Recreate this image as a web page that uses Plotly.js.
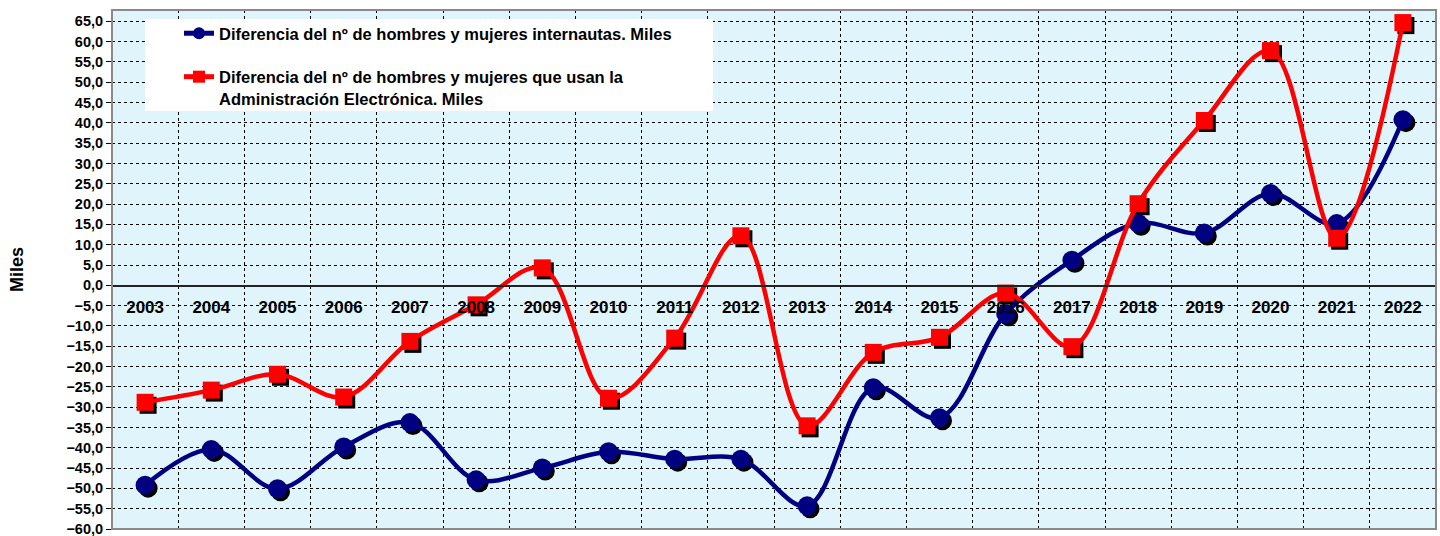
<!DOCTYPE html>
<html>
<head>
<meta charset="utf-8">
<script src="https://cdn.plot.ly/plotly-3.0.1.min.js"></script>
<style>html,body{margin:0;padding:0;background:#fff;}#chart{width:1440px;height:536px;}</style>
</head>
<body>
<div id="chart"></div>
<script>
// ---- data ----
const years = ['2003','2004','2005','2006','2007','2008','2009','2010','2011','2012',
               '2013','2014','2015','2016','2017','2018','2019','2020','2021','2022'];
const internautas = [-49.2, -40.4, -50.1, -39.8, -33.8, -47.9, -45.0, -41.0, -42.8, -42.8,
                     -54.3, -25.2, -32.6, -7.0, 6.2, 15.3, 12.9, 22.6, 15.2, 40.8];
const adminElectronica = [-28.8, -25.8, -21.9, -27.5, -13.8, -4.8, 4.3, -27.8, -13.0, 12.2,
                          -34.6, -16.5, -12.8, -1.9, -15.1, 20.1, 40.6, 57.8, 11.6, 64.7];
const seriesNames = [
  'Diferencia del nº de hombres y mujeres internautas. Miles',
  'Diferencia del nº de hombres y mujeres que usan la<br>Administración Electrónica. Miles'
];
const yTitle = 'Miles';

// ---- styling ----
const FONT = '"Liberation Sans", Arial, sans-serif';
const BLUE = '#000080', RED = '#FF0000';
const Y_MIN = -60, Y_MAX = 67.8;
const PLOT_W = 1440 - 112 - 4, PLOT_H = 536 - 10 - 7;
const N = years.length;
const SH_X = 3 * N / PLOT_W;                    // 3px shadow shift (category units)
const SH_Y = 3 * (Y_MAX - Y_MIN) / PLOT_H;      // 3px shadow shift (y units)
const BASE_X = [-0.5 - SH_X, N - 0.5 - SH_X];
const BASE_Y = [Y_MIN + SH_Y, Y_MAX + SH_Y];
// legend backing box, given in pixels of the page, converted to base-axis units
const fx = (px) => BASE_X[0] + (px - 112) / PLOT_W * (BASE_X[1] - BASE_X[0]);
const fy = (py) => BASE_Y[0] + (529 - py) / PLOT_H * (BASE_Y[1] - BASE_Y[0]);

const traces = [
  // black marker shadows on the hidden, 3px-shifted base axes
  {x: years, y: internautas, xaxis: 'x', yaxis: 'y', type: 'scatter', mode: 'markers',
   marker: {symbol: 'circle', size: 19, color: '#000'}, showlegend: false, hoverinfo: 'skip'},
  {x: years, y: adminElectronica, xaxis: 'x', yaxis: 'y', type: 'scatter', mode: 'markers',
   marker: {symbol: 'square', size: 17, color: '#000'}, showlegend: false, hoverinfo: 'skip'},
  // main series on the visible axes
  {x: years, y: internautas, xaxis: 'x2', yaxis: 'y2', type: 'scatter', mode: 'lines+markers',
   name: seriesNames[0], legendgroup: 'a',
   line: {color: BLUE, width: 4.5, shape: 'spline', smoothing: 1},
   marker: {symbol: 'circle', size: 19, color: BLUE}},
  {x: years, y: adminElectronica, xaxis: 'x2', yaxis: 'y2', type: 'scatter', mode: 'lines+markers',
   name: seriesNames[1], legendgroup: 'b',
   line: {color: RED, width: 4.5, shape: 'spline', smoothing: 1},
   marker: {symbol: 'square', size: 17, color: RED}}
];

const layout = {
  width: 1440, height: 536,
  margin: {l: 112, r: 4, t: 10, b: 7},
  paper_bgcolor: '#ffffff',
  plot_bgcolor: '#E0F4FC',
  separators: ', ',
  font: {family: FONT, color: '#000'},
  showlegend: true,
  xaxis: {type: 'category', categoryorder: 'array', categoryarray: years,
    range: BASE_X, visible: false, showgrid: false, zeroline: false, anchor: 'y', fixedrange: true},
  yaxis: {range: BASE_Y, visible: false, showgrid: false, zeroline: false, anchor: 'x', fixedrange: true},
  xaxis2: {
    overlaying: 'x',
    type: 'category', categoryorder: 'array', categoryarray: years,
    range: [-0.5, N - 0.5],
    tickson: 'boundaries', ticks: '',
    showgrid: true, gridcolor: '#000', griddash: 'dot', gridwidth: 1,
    anchor: 'free', position: (0 - Y_MIN) / (Y_MAX - Y_MIN),
    showline: true, linecolor: '#222', linewidth: 1.5,
    tickfont: {family: FONT, size: 17, weight: 'bold', color: '#000'},
    ticklabelstandoff: 6,
    fixedrange: true
  },
  yaxis2: {
    overlaying: 'y', anchor: 'x2', side: 'left',
    range: [Y_MIN, Y_MAX], tick0: -60, dtick: 5, tickformat: '.1f',
    showgrid: true, gridcolor: '#000', griddash: 'dot', gridwidth: 1,
    zeroline: false, ticklabeloverflow: 'allow',
    ticks: 'outside', ticklen: 5, tickcolor: '#000',
    tickfont: {family: FONT, size: 14.5, weight: 'bold', color: '#000'},
    title: {text: yTitle, font: {family: FONT, size: 18, weight: 'bold'}, standoff: 38},
    fixedrange: true
  },
  legend: {
    x: (179 - 112) / PLOT_W, xanchor: 'left',
    y: (529 - 16) / PLOT_H, yanchor: 'top',
    bgcolor: 'rgba(0,0,0,0)', borderwidth: 0,
    font: {family: FONT, size: 16.5, weight: 'bold', color: '#000'},
    valign: 'top', traceorder: 'grouped', tracegroupgap: 19,
    itemsizing: 'constant'
  },
  shapes: [
    {type: 'rect', xref: 'x', yref: 'y', layer: 'between',
     x0: fx(145), x1: fx(713), y0: fy(111), y1: fy(19),
     fillcolor: '#ffffff', line: {width: 0}},
    {type: 'rect', xref: 'paper', yref: 'paper', layer: 'above',
     x0: 0, x1: 1, y0: 0, y1: 1, line: {color: '#8a8a8a', width: 2}}
  ]
};

Plotly.newPlot('chart', traces, layout, {displayModeBar: false, staticPlot: true});
</script>
</body>
</html>
